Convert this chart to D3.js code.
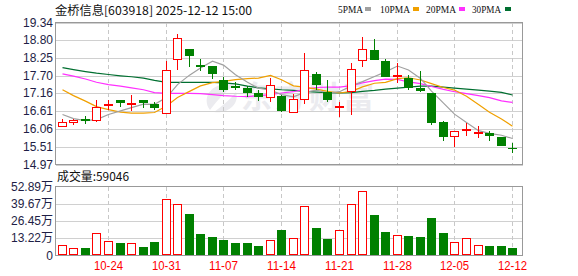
<!DOCTYPE html>
<html><head><meta charset="utf-8">
<script src="https://cdn.jsdelivr.net/npm/d3@7"></script>
<style>html,body{margin:0;padding:0;background:#fff;}svg{display:block;}</style>
</head><body>
<svg id="c" width="578" height="276"></svg>
<script>
const title = "金桥信息[603918] 2025-12-12 15:00";
const dates = ["10-20","10-21","10-22","10-23","10-24","10-27","10-28","10-29","10-30","10-31",
"11-03","11-04","11-05","11-06","11-07","11-10","11-11","11-12","11-13","11-14",
"11-17","11-18","11-19","11-20","11-21","11-24","11-25","11-26","11-27","11-28",
"12-01","12-02","12-03","12-04","12-05","12-08","12-09","12-10","12-11","12-12"];
const openP  = [16.12,16.24,16.36,16.32,16.80,16.97,16.83,16.94,16.84,16.53,18.19,18.53,18.02,17.99,17.58,17.39,17.32,17.16,17.02,17.09,16.56,16.96,17.76,17.19,16.72,17.19,18.17,18.50,18.17,17.70,17.63,17.32,17.16,16.27,15.81,16.03,15.91,15.95,15.81,15.49];
const closeP = [16.29,16.35,16.33,16.75,16.82,16.86,16.85,16.86,16.71,17.88,18.87,18.30,17.96,17.76,17.27,17.37,17.16,17.06,17.42,16.61,16.99,17.88,17.42,16.96,16.78,17.92,18.53,18.19,17.66,17.72,17.32,17.22,16.24,15.81,15.99,16.05,15.96,15.84,15.53,15.48];
const highP  = [16.36,16.36,16.45,16.94,16.96,16.97,17.12,16.96,16.89,18.17,18.99,18.53,18.22,17.99,17.66,17.50,17.40,17.25,17.64,17.10,17.15,18.40,17.81,17.58,16.89,18.09,18.89,18.84,18.22,18.09,17.71,17.86,17.16,16.30,15.99,16.24,16.14,15.99,15.81,15.63];
const lowP   = [16.11,16.20,16.22,16.27,16.65,16.73,16.61,16.71,16.65,16.53,17.88,17.96,17.86,17.61,17.19,17.25,17.06,16.92,16.89,16.59,16.56,16.84,17.27,16.89,16.43,16.48,17.96,18.19,17.66,17.47,17.25,17.19,16.20,15.69,15.50,15.86,15.79,15.69,15.53,15.33];
const volume = [8.3,6.0,5.4,17.6,10.8,9.3,9.8,6.2,10.3,43.1,39.7,32.0,16.3,13.9,11.6,9.3,9.3,7.2,11.6,19.6,13.7,37.7,20.9,12.4,19.4,39.2,49.3,31.0,17.8,16.0,15.2,13.9,28.7,17.0,10.6,13.7,8.3,7.0,7.0,5.9];
const ma5  = [16.51,16.38,16.32,16.35,16.51,16.62,16.72,16.83,16.82,17.03,17.43,17.72,17.94,18.15,18.03,17.73,17.50,17.32,17.26,17.12,17.05,17.19,17.26,17.17,17.21,17.39,17.52,17.68,17.82,18.00,17.88,17.62,17.23,16.86,16.52,16.26,16.01,15.93,15.87,15.77];
const ma10 = [17.27,17.09,16.92,16.75,16.66,16.58,16.55,16.55,16.57,16.77,17.03,17.22,17.39,17.49,17.53,17.58,17.61,17.63,17.71,17.58,17.39,17.35,17.29,17.22,17.17,17.22,17.36,17.47,17.50,17.61,17.64,17.57,17.46,17.34,17.26,17.07,16.82,16.58,16.37,16.15];
const ma20 = [17.76,17.69,17.60,17.50,17.43,17.38,17.33,17.27,17.18,17.16,17.16,17.16,17.15,17.12,17.09,17.07,17.06,17.09,17.12,17.17,17.21,17.28,17.34,17.35,17.35,17.40,17.48,17.55,17.60,17.59,17.51,17.46,17.37,17.28,17.21,17.15,17.09,17.03,16.93,16.88];
const ma30 = [17.95,17.89,17.83,17.78,17.74,17.70,17.67,17.63,17.56,17.50,17.50,17.50,17.50,17.50,17.48,17.45,17.38,17.33,17.30,17.27,17.25,17.22,17.20,17.18,17.17,17.18,17.22,17.25,17.29,17.32,17.35,17.38,17.38,17.35,17.32,17.29,17.26,17.23,17.19,17.11];
const priceTicks = [19.34,18.80,18.25,17.70,17.16,16.61,16.06,15.51,14.97];
const volTicks = [52.89,39.67,26.45,13.22,0];
const volTickLabels = ["52.89万","39.67万","26.45万","13.22万","0"];
const dateTicks = ["10-24","10-31","11-07","11-14","11-21","11-28","12-05","12-12"];
const maNames = ["5PMA","10PMA","20PMA","30PMA"];
const maColors = ["#a0a0a0","#f0a000","#ff30ff","#006f30"];
const volLabel = "成交量:59046";

const RED = "#ff0000", GREEN = "#008000", TXT = "#1e1e46";
const svg = d3.select("#c");
const L = 55.5, R = 522.5;
const x = d3.scaleBand().domain(dates).range([56, 518]);
const cx = d => Math.round(x(d) + x.bandwidth()/2) + 0.5;
const y = d3.scaleLinear().domain([14.97, 19.34]).range([164.5, 22.5]);
const yv = d3.scaleLinear().domain([0, 52.89]).range([255.5, 186.5]);

// title & legend
svg.append("text").attr("x", 55).attr("y", 15).attr("font-family", "'Noto Sans CJK SC', sans-serif")
  .attr("font-size", 12).attr("fill", "#111").attr("textLength", 197).attr("lengthAdjust", "spacingAndGlyphs").text(title);
const legX = [338, 380, 426, 472], legW = [25, 30, 30, 29], sqX = [365, 413, 459, 505];
maNames.forEach((n, i) => {
  svg.append("text").attr("x", legX[i]).attr("y", 12.5).attr("font-family", "'Liberation Serif', serif")
    .attr("font-size", 11).attr("fill", "#111").attr("textLength", legW[i]).attr("lengthAdjust", "spacingAndGlyphs").text(n);
  svg.append("rect").attr("x", sqX[i]).attr("y", 7).attr("width", 6).attr("height", 4).attr("fill", maColors[i]);
});

// watermark
svg.append("text").attr("x", 241).attr("y", 108).attr("font-family", "'Noto Sans CJK SC', sans-serif")
  .attr("font-weight", "bold").attr("font-size", 31).attr("letter-spacing", 3).attr("fill", "#ebebef").text("东方财富");
svg.append("path").attr("d", "M236,84 C214,80 200,96 210,110 C218,100 224,92 236,84 Z M214,112 C228,114 240,104 236,92 C230,100 222,106 214,112 Z").attr("fill", "#ebebef");

// main grid
const g = svg.append("g").attr("shape-rendering", "crispEdges");
priceTicks.forEach(t => {
  g.append("line").attr("x1", L).attr("x2", R).attr("y1", Math.round(y(t)) + 0.5).attr("y2", Math.round(y(t)) + 0.5).attr("stroke", "#d0d0d0");
  svg.append("text").attr("x", 53).attr("y", Math.round(y(t)) + 4).attr("text-anchor", "end")
    .attr("font-family", "'Liberation Sans', Arial, sans-serif").attr("font-size", 12).attr("fill", TXT).text(t.toFixed(2));
});
volTicks.forEach((t, i) => {
  if (t > 0 && t < 52) g.append("line").attr("x1", L).attr("x2", R).attr("y1", Math.round(yv(t)) + 0.5).attr("y2", Math.round(yv(t)) + 0.5).attr("stroke", "#d0d0d0");
  svg.append("text").attr("x", 53).attr("y", Math.round(yv(t)) + 4).attr("text-anchor", "end")
    .attr("font-family", "'Liberation Sans', 'Noto Sans CJK SC', sans-serif").attr("font-size", 12).attr("fill", TXT).text(volTickLabels[i]);
});
dateTicks.forEach(d => {
  const xx = cx(d);
  g.append("line").attr("x1", xx).attr("x2", xx).attr("y1", 22.5).attr("y2", 164.5).attr("stroke", "#c8c8c8").attr("stroke-dasharray", "4,3");
  g.append("line").attr("x1", xx).attr("x2", xx).attr("y1", 186.5).attr("y2", 255.5).attr("stroke", "#c8c8c8").attr("stroke-dasharray", "4,3");
  svg.append("text").attr("x", xx).attr("y", 270).attr("text-anchor", "middle")
    .attr("font-family", "'Liberation Sans', Arial, sans-serif").attr("font-size", 12).attr("fill", RED)
    .attr("textLength", 29).attr("lengthAdjust", "spacingAndGlyphs").text(d);
});

// MA lines
const mas = [ma5, ma10, ma20, ma30];
[3, 2, 1, 0].forEach(k => {
  const line = d3.line().x((v, i) => cx(dates[i])).y(v => y(v));
  svg.append("path").attr("d", line(mas[k])).attr("fill", "none").attr("stroke", maColors[k]).attr("stroke-width", 1.2);
});

// candles
const cg = svg.append("g").attr("shape-rendering", "crispEdges");
dates.forEach((d, i) => {
  const xx = cx(d);
  const o = openP[i], c = closeP[i], h = highP[i], l = lowP[i];
  const up = c >= o;
  const col = up ? RED : GREEN;
  const yt = Math.round(y(Math.max(o, c))), yb = Math.round(y(Math.min(o, c)));
  const yh = Math.round(y(h)), yl = Math.round(y(l));
  if (yb - yt <= 1) {
    cg.append("line").attr("x1", xx).attr("x2", xx).attr("y1", yh).attr("y2", yl).attr("stroke", col);
    cg.append("line").attr("x1", xx - 4.5).attr("x2", xx + 4.5).attr("y1", yt + 0.5).attr("y2", yt + 0.5).attr("stroke", col).attr("stroke-width", yb - yt >= 1 ? 2 : 1);
  } else if (up) {
    cg.append("line").attr("x1", xx).attr("x2", xx).attr("y1", yh).attr("y2", yt).attr("stroke", col);
    cg.append("line").attr("x1", xx).attr("x2", xx).attr("y1", yb).attr("y2", yl).attr("stroke", col);
    cg.append("rect").attr("x", xx - 4).attr("y", yt + 0.5).attr("width", 8).attr("height", yb - yt - 1)
      .attr("fill", "#fff").attr("stroke", col);
  } else {
    cg.append("line").attr("x1", xx).attr("x2", xx).attr("y1", yh).attr("y2", yl).attr("stroke", col);
    cg.append("rect").attr("x", xx - 4.5).attr("y", yt).attr("width", 9).attr("height", yb - yt).attr("fill", col);
  }
});

// volume
svg.append("text").attr("x", 57).attr("y", 181).attr("font-family", "'Noto Sans CJK SC', sans-serif")
  .attr("font-size", 12).attr("fill", "#111").attr("textLength", 72).attr("lengthAdjust", "spacingAndGlyphs").text(volLabel);
const vg = svg.append("g").attr("shape-rendering", "crispEdges");
dates.forEach((d, i) => {
  const xx = cx(d);
  const up = closeP[i] >= openP[i];
  const top = Math.round(yv(volume[i]));
  if (up) {
    vg.append("rect").attr("x", xx - 4).attr("y", top + 0.5).attr("width", 8).attr("height", 255 - top - 1)
      .attr("fill", "#fff").attr("stroke", RED);
  } else {
    vg.append("rect").attr("x", xx - 4.5).attr("y", top).attr("width", 9).attr("height", 255.5 - top).attr("fill", GREEN);
  }
});

// borders
const bg = svg.append("g").attr("shape-rendering", "crispEdges");
bg.append("rect").attr("x", L).attr("y", 22.5).attr("width", R - L).attr("height", 142).attr("fill", "none").attr("stroke", "#999");
bg.append("rect").attr("x", L).attr("y", 186.5).attr("width", R - L).attr("height", 69).attr("fill", "none").attr("stroke", "#999");
</script>
</body></html>
